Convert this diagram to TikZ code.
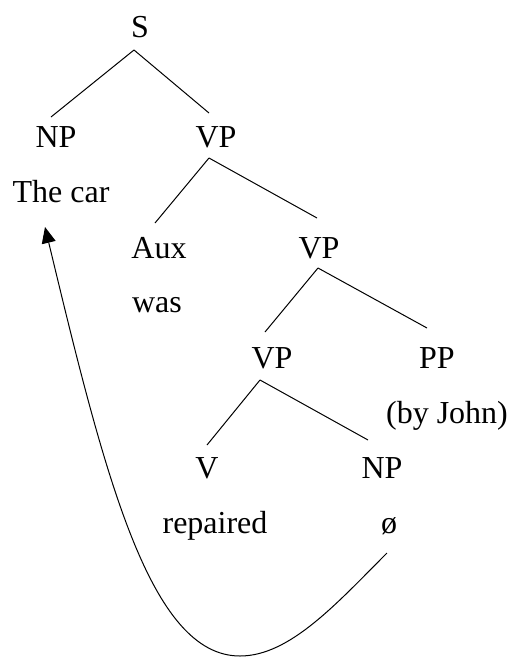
\documentclass[tikz,border=0pt]{standalone}
\usepackage{fontspec}
\setmainfont{Liberation Serif}
\usetikzlibrary{arrows.meta}
\begin{document}
\begin{tikzpicture}[x=1pt,y=-1pt,
  lbl/.style={inner sep=0pt,anchor=base,font=\fontsize{32}{38}\selectfont},
  edge/.style={line width=1pt},
  move/.style={line width=1pt,-{Triangle[length=16pt,width=14pt]}}]
\path[use as bounding box] (0,0) rectangle (510,657);
\node[lbl] (S) at (140,37) {S};
\node[lbl] (NP) at (56,147) {NP};
\node[lbl] (VPa) at (216,147) {VP};
\node[lbl] (car) at (61,202) {The car};
\node[lbl] (Aux) at (159,258) {Aux};
\node[lbl] (was) at (157,312) {was};
\node[lbl] (VPb) at (319,258) {VP};
\node[lbl] (VPc) at (272,368) {VP};
\node[lbl] (PP) at (437,368) {PP};
\node[lbl] (john) at (447,423) {(by John)};
\node[lbl] (V) at (207,478) {V};
\node[lbl] (NPb) at (382,478) {NP};
\node[lbl] (rep) at (215,533) {repaired};
\node[lbl] (phi) at (389,533) {ø};
\draw[edge] ([shift={(-6,13)}]S.base) -- ([shift={(-5,-30)}]NP.base);
\draw[edge] ([shift={(-6,13)}]S.base) -- ([shift={(-7,-34)}]VPa.base);
\draw[edge] ([shift={(-7,11)}]VPa.base) -- ([shift={(-4,-35)}]Aux.base);
\draw[edge] ([shift={(-7,11)}]VPa.base) -- ([shift={(-2,-40)}]VPb.base);
\draw[edge] ([shift={(-1,10)}]VPb.base) -- ([shift={(-7,-36)}]VPc.base);
\draw[edge] ([shift={(-1,10)}]VPb.base) -- ([shift={(-10,-40)}]PP.base);
\draw[edge] ([shift={(-12,12)}]VPc.base) -- ([shift={(0,-33)}]V.base);
\draw[edge] ([shift={(-12,12)}]VPc.base) -- ([shift={(-14,-38)}]NPb.base);
\coordinate (bot) at (240,656);
\draw[move] ([shift={(-2,20)}]phi.base) .. controls (337,603) and (290,656) .. (bot)
  .. controls (150,656) and (105,477) .. ([shift={(-16,25)}]car.base);
\end{tikzpicture}
\end{document}
